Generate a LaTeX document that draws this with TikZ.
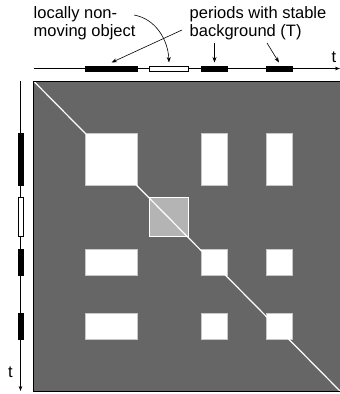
\documentclass[tikz,border=0pt]{standalone}
\usepackage{fontspec}
\setmainfont{Liberation Sans}
\usetikzlibrary{arrows.meta,fit,positioning}
\definecolor{matgray}{HTML}{666666}
\definecolor{selgray}{HTML}{B4B4B4}
\definecolor{blkedge}{HTML}{C8C8C8}

\begin{document}
\begin{tikzpicture}[
  x=1pt,y=-1pt,
  every node/.style={font=\fontsize{16.5}{17.5}\selectfont,inner sep=0pt},
  stable/.style={draw=black,fill=black,line width=0.6pt,outer sep=0pt},
  moving/.style={draw=black,fill=white,line width=0.6pt,outer sep=0pt},
  hseg/.style={minimum height=5pt},
  vseg/.style={minimum width=5pt},
  simmat/.style={draw=black,fill=matgray,line width=0.8pt,outer sep=0pt},
  blk/.style={draw=blkedge,fill=white,line width=0.6pt},
  selblk/.style={draw=white,fill=selgray,line width=0.8pt},
  diag/.style={draw=white,line width=1.2pt},
  axis/.style={-{Stealth[length=5pt,width=3.6pt]},line width=0.7pt},
  arrow/.style={-{Stealth[length=5.5pt,width=4pt]},line width=0.6pt}
]
  \useasboundingbox (0,0) rectangle (340,394);

  % similarity matrix
  \node[simmat,anchor=north west,minimum width=306.5pt,minimum height=310pt] (mat) at (33.5,81) {};

  % time axes
  \coordinate (tx0) at (33.5,68.5);
  \coordinate (tx1) at (340,68.5);
  \coordinate (ty0) at (20.5,81);
  \coordinate (ty1) at (20.5,391);
  \draw[axis] (tx0) -- (tx1);
  \draw[axis] (ty0) -- (ty1);
  \node[anchor=base] (tlblx) at (334,62) {t};
  \node[anchor=base] (tlbly) at (10.5,377) {t};

  % periods on the horizontal axis
  \node[stable,hseg,minimum width=52pt] (h1) at (111.5,68.5) {};
  \node[moving,hseg,minimum width=39pt] (h2) at (169,68.5) {};
  \node[stable,hseg,minimum width=26pt] (h3) at (214.5,68.5) {};
  \node[stable,hseg,minimum width=26pt] (h4) at (279,68.5) {};

  % periods on the vertical axis
  \node[stable,vseg,minimum height=52pt] (v1) at (20.5,159) {};
  \node[moving,vseg,minimum height=39pt] (v2) at (20.5,217) {};
  \node[stable,vseg,minimum height=26pt] (v3) at (20.5,262) {};
  \node[stable,vseg,minimum height=26pt] (v4) at (20.5,326.5) {};

  % blocks of the matrix
  \node[blk,fit=(h1.west |- v1.north) (h1.east |- v1.south)] (b11) {};
  \node[blk,fit=(h3.west |- v1.north) (h3.east |- v1.south)] (b31) {};
  \node[blk,fit=(h4.west |- v1.north) (h4.east |- v1.south)] (b41) {};
  \node[selblk,fit=(h2.west |- v2.north) (h2.east |- v2.south)] (b22) {};
  \node[blk,fit=(h1.west |- v3.north) (h1.east |- v3.south)] (b13) {};
  \node[blk,fit=(h3.west |- v3.north) (h3.east |- v3.south)] (b33) {};
  \node[blk,fit=(h4.west |- v3.north) (h4.east |- v3.south)] (b43) {};
  \node[blk,fit=(h1.west |- v4.north) (h1.east |- v4.south)] (b14) {};
  \node[blk,fit=(h3.west |- v4.north) (h3.east |- v4.south)] (b34) {};
  \node[blk,fit=(h4.west |- v4.north) (h4.east |- v4.south)] (b44) {};
  \draw[diag] (mat.north west) -- (mat.south east);
  \draw[line width=0.8pt] (mat.north west) rectangle (mat.south east);

  % labels
  \node[anchor=north west,align=left] (objlbl) at (33.5,6.5) {locally non-\\moving object};
  \node[anchor=north west,align=left] (bglbl) at (189.5,6.5) {periods with stable\\background (T)};
  \coordinate (objend) at (134,15);
  \coordinate (bgstart) at (182,30);
  \coordinate (bg3) at (214.5,43);
  \coordinate (bg4) at (267,43);

  \draw[arrow] (objend) .. controls (156,19) and (168,40) .. ([yshift=3.5pt]h2.north);
  \draw[arrow] (bgstart) -- ([yshift=3.5pt]h1.north);
  \draw[arrow] (bg3) -- ([yshift=3.5pt]h3.north);
  \draw[arrow] (bg4) -- ([yshift=3.5pt]h4.north);
\end{tikzpicture}
\end{document}
